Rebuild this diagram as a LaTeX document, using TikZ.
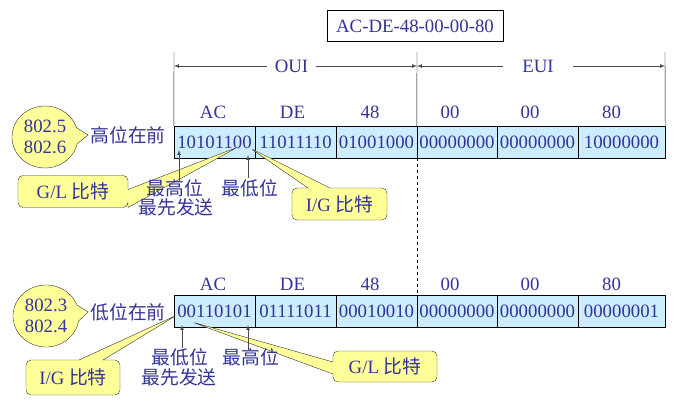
\documentclass[tikz,border=0pt]{standalone}
\usepackage{fontspec}
\setmainfont{Liberation Serif}
\newfontfamily\cjk{Noto Sans CJK SC}
\usetikzlibrary{arrows,shapes.callouts}

\definecolor{textblue}{RGB}{51,51,153}
\definecolor{cellblue}{RGB}{204,236,255}
\definecolor{noteyellow}{RGB}{255,255,153}

\tikzset{
  txt/.style={text=textblue, font=\fontsize{18.8pt}{21.6pt}\selectfont, inner sep=0pt},
  cell/.style={txt, draw, fill=cellblue, minimum height=32pt},
  bubble/.style={txt, draw=black!80, fill=noteyellow, ellipse callout, callout pointer arc=30,
    minimum width=66pt, minimum height=62pt, align=center},
  note/.style={txt, draw=black!80, fill=noteyellow, rectangle callout, rounded corners=5pt,
    callout pointer width=22pt, minimum height=32pt},
  pin/.style={-latex, black!70, line width=0.7pt}
}

\begin{document}
\begin{tikzpicture}[x=1pt,y=-1pt]
  \useasboundingbox (0,0) rectangle (687,407);
  \node[txt, draw, minimum width=176pt, minimum height=31pt] (MAC) at (415,26) {AC-DE-48-00-00-80};

  % upper row
  \node[cell, minimum width=81pt] (T-1) at (214.5,142) {10101100};
  \node[cell, minimum width=81pt] (T-2) at (295.5,142) {11011110};
  \node[cell, minimum width=81pt] (T-3) at (376.5,142) {01001000};
  \node[cell, minimum width=80pt] (T-4) at (457,142) {00000000};
  \node[cell, minimum width=81pt] (T-5) at (537.5,142) {00000000};
  \node[cell, minimum width=87pt] (T-6) at (621.5,142) {10000000};
  \node[txt] (TH-1) at (213,112.5) {AC};
  \node[txt] (TH-2) at (292.5,112.5) {DE};
  \node[txt] (TH-3) at (370,112.5) {48};
  \node[txt] (TH-4) at (450,112.5) {00};
  \node[txt] (TH-5) at (530,112.5) {00};
  \node[txt] (TH-6) at (611.5,112.5) {80};

  % lower row
  \node[cell, minimum width=81pt] (B-1) at (214.5,311.5) {00110101};
  \node[cell, minimum width=81pt] (B-2) at (295.5,311.5) {01111011};
  \node[cell, minimum width=81pt] (B-3) at (376.5,311.5) {00010010};
  \node[cell, minimum width=80pt] (B-4) at (457,311.5) {00000000};
  \node[cell, minimum width=81pt] (B-5) at (537.5,311.5) {00000000};
  \node[cell, minimum width=87pt] (B-6) at (621.5,311.5) {00000001};
  \node[txt] (BH-1) at (213,284) {AC};
  \node[txt] (BH-2) at (292.5,284) {DE};
  \node[txt] (BH-3) at (370,284) {48};
  \node[txt] (BH-4) at (450,284) {00};
  \node[txt] (BH-5) at (530,284) {00};
  \node[txt] (BH-6) at (611.5,284) {80};

  % OUI / EUI
  \coordinate (K-1) at (174,52);
  \coordinate (K-2) at (417,52);
  \coordinate (K-3) at (665,52);
  \draw (K-1) -- (T-1.north west);
  \draw (K-2) -- (T-4.north west);
  \draw (K-3) -- (T-6.north east);
  \draw[dashed] (T-4.south west) -- (B-4.north west);
  \coordinate (A-1) at (174,66);
  \coordinate (A-2) at (417,66);
  \coordinate (A-3) at (665,66);
  \node[txt, inner xsep=8pt] (OUI) at (291.5,66) {OUI};
  \node[txt, inner xsep=19pt] (EUI) at (538,66) {EUI};
  \draw[pin] (OUI) -- (A-1);
  \draw[pin] (OUI) -- (A-2);
  \draw[pin] (EUI) -- (A-2);
  \draw[pin] (EUI) -- (A-3);

  % bit order
  \node[txt, inner sep=2pt] (HF) at (128,135) {\cjk 高位在前};
  \node[txt, inner sep=2pt] (LF) at (128,312) {\cjk 低位在前};
  \node[bubble, callout absolute pointer={(HF.west)}] (S-1) at (45,137) {802.5\\802.6};
  \node[bubble, callout absolute pointer={(LF.west)}] (S-2) at (46,316) {802.3\\802.4};

  % G/L and I/G bits
  \coordinate (P-1) at (238,147);
  \coordinate (P-2) at (250,148);
  \coordinate (P-3) at (177,315);
  \coordinate (P-4) at (192,322);
  \node[note, minimum width=110pt, callout pointer width=18pt, callout absolute pointer={(P-1)}] (N-1) at (73,191.5) {G/L {\cjk 比特}};
  \node[note, minimum width=95pt, callout absolute pointer={(P-2)}] (N-2) at (339.5,204) {I/G {\cjk 比特}};
  \node[note, minimum width=94pt, minimum height=35pt, callout pointer width=24pt, callout absolute pointer={(P-3)}] (N-3) at (73,377.5) {I/G {\cjk 比特}};
  \node[note, minimum width=104pt, minimum height=31pt, callout pointer width=12pt, callout absolute pointer={(P-4)}] (N-4) at (385,366.5) {G/L {\cjk 比特}};

  \node[txt] (L-1) at (175,188) {\cjk 最高位};
  \node[txt] (L-2) at (176,207) {\cjk 最先发送};
  \node[txt] (L-3) at (250,188) {\cjk 最低位};
  \node[txt] (L-4) at (180,357) {\cjk 最低位};
  \node[txt] (L-5) at (179,377) {\cjk 最先发送};
  \node[txt] (L-6) at (251,357) {\cjk 最高位};
  \coordinate (U-1) at (179,182);
  \coordinate (V-1) at (179,150);
  \coordinate (U-2) at (248,178);
  \coordinate (V-2) at (248,155);
  \coordinate (U-3) at (182,348);
  \coordinate (V-3) at (182,325);
  \coordinate (U-4) at (248,350);
  \coordinate (V-4) at (248,325);
  \draw[pin] (U-1) -- (V-1);
  \draw[pin] (U-2) -- (V-2);
  \draw[pin] (U-3) -- (V-3);
  \draw[pin] (U-4) -- (V-4);
\end{tikzpicture}
\end{document}
